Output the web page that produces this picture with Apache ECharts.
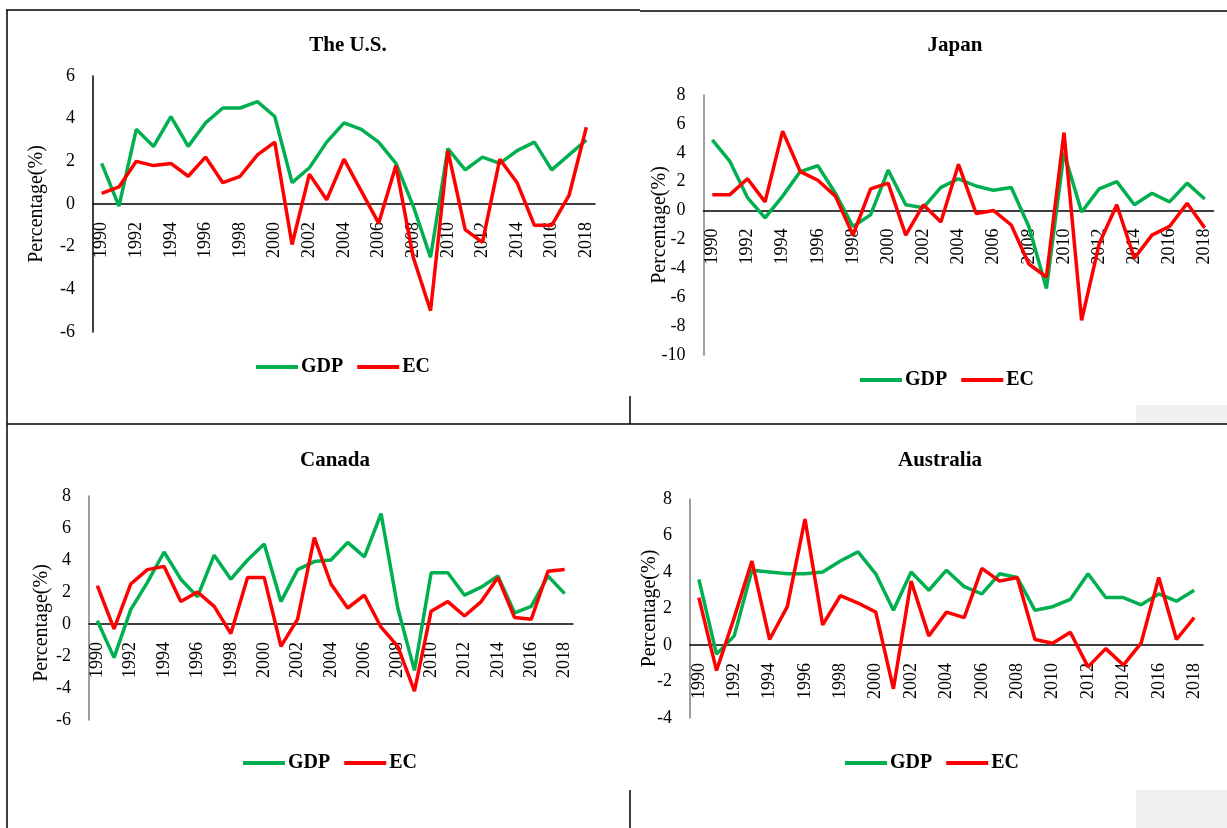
<!DOCTYPE html>
<html>
<head>
<meta charset="utf-8">
<script src="https://cdn.jsdelivr.net/npm/echarts@6/dist/echarts.min.js"></script>
<style>html,body{margin:0;padding:0;background:#fff}#c{width:1227px;height:828px}</style>
</head>
<body>
<div id="c"></div>
<script>
const years = ['1990','1991','1992','1993','1994','1995','1996','1997','1998','1999','2000','2001','2002','2003','2004','2005','2006','2007','2008','2009','2010','2011','2012','2013','2014','2015','2016','2017','2018'];
const panelTitles = ['The U.S.', 'Japan', 'Canada', 'Australia'];
const usGDP = [1.9,-0.1,3.5,2.7,4.1,2.7,3.8,4.5,4.5,4.8,4.1,1.0,1.7,2.9,3.8,3.5,2.9,1.9,-0.1,-2.5,2.6,1.6,2.2,1.9,2.5,2.9,1.6,2.3,3.0];
const usEC  = [0.5,0.8,2.0,1.8,1.9,1.3,2.2,1.0,1.3,2.3,2.9,-1.9,1.4,0.2,2.1,0.6,-0.9,1.8,-2.5,-5.0,2.5,-1.2,-1.8,2.1,1.0,-1.0,-1.0,0.4,3.6];
const jpGDP = [4.9,3.4,0.9,-0.5,1.0,2.7,3.1,1.2,-1.1,-0.3,2.8,0.4,0.2,1.6,2.2,1.7,1.4,1.6,-1.1,-5.4,4.0,-0.1,1.5,2.0,0.4,1.2,0.6,1.9,0.8];
const jpEC  = [1.1,1.1,2.2,0.6,5.5,2.7,2.1,1.0,-1.7,1.5,1.9,-1.7,0.4,-0.8,3.2,-0.2,0.0,-1.0,-3.7,-4.6,5.4,-7.6,-2.3,0.4,-3.3,-1.7,-1.1,0.5,-1.2];
const caGDP = [0.2,-2.1,0.9,2.6,4.5,2.8,1.7,4.3,2.8,4.0,5.0,1.4,3.4,3.9,4.0,5.1,4.2,6.9,1.0,-2.9,3.2,3.2,1.8,2.3,3.0,0.7,1.1,3.0,1.9];
const caEC  = [2.4,-0.3,2.5,3.4,3.6,1.4,2.0,1.1,-0.6,2.9,2.9,-1.4,0.3,5.4,2.5,1.0,1.8,-0.2,-1.4,-4.2,0.8,1.4,0.5,1.4,2.9,0.4,0.3,3.3,3.4];
const auGDP = [3.6,-0.5,0.5,4.1,4.0,3.9,3.9,4.0,4.6,5.1,3.9,1.9,4.0,3.0,4.1,3.2,2.8,3.9,3.7,1.9,2.1,2.5,3.9,2.6,2.6,2.2,2.8,2.4,3.0];
const auEC  = [2.6,-1.4,1.5,4.6,0.3,2.1,6.9,1.1,2.7,2.3,1.8,-2.4,3.5,0.5,1.8,1.5,4.2,3.5,3.7,0.3,0.1,0.7,-1.2,-0.2,-1.1,0.1,3.7,0.3,1.5];
const yMins = [-6, -10, -6, -4];
const yMaxs = [6, 8, 8, 8];

const serif = 'Liberation Serif';
const GREEN = '#00B050', RED = '#FF0000';
const plotBoxes = [
  {left: 93, top: 76, width: 502, height: 256},
  {left: 703.5, top: 95, width: 510, height: 260},
  {left: 89, top: 496, width: 484, height: 224},
  {left: 690, top: 499, width: 513, height: 219}
];
const titlePos = [[343, 30], [950, 30], [330, 445], [935, 445]];
const legendPos = [[251, 352], [855, 365], [238, 748], [840, 748]];
const nameGaps = [46, 34, 37, 30];
const namePads = [[0,0,0,0],[0,0,0,0],[0,30,0,0],[0,0,0,0]];
const axisColors = ['#000', '#7f7f7f', '#7f7f7f', '#7f7f7f'];
const gdpData = [usGDP, jpGDP, caGDP, auGDP];
const ecData = [usEC, jpEC, caEC, auEC];

const chart = echarts.init(document.getElementById('c'));
const grid = [], xAxis = [], yAxis = [], series = [], title = [], legend = [];
for (let i = 0; i < 4; i++) {
  const b = plotBoxes[i];
  grid.push(b);
  title.push({text: panelTitles[i], left: titlePos[i][0], top: titlePos[i][1], textAlign: 'center',
    textStyle: {fontFamily: serif, fontWeight: 'bold', fontSize: 21, color: '#000'}});
  legend.push({data: ['GDP', 'EC'], left: legendPos[i][0], top: legendPos[i][1], icon: 'rect',
    itemWidth: 42, itemHeight: 4, itemGap: 14,
    textStyle: {fontFamily: serif, fontWeight: 'bold', fontSize: 20, color: '#000', padding: [0,0,0,-2]}});
  xAxis.push({type: 'category', gridIndex: i, data: years, boundaryGap: true,
    axisLine: {onZero: true, lineStyle: {color: '#000', width: 1.5}},
    axisTick: {show: false}, axisLabel: {show: false}, splitLine: {show: false}});
  yAxis.push({type: 'value', gridIndex: i, min: yMins[i], max: yMaxs[i], interval: 2,
    name: 'Percentage(%)', nameLocation: 'middle', nameGap: nameGaps[i], nameMoveOverlap: false,
    nameTextStyle: {fontFamily: serif, fontSize: 20, color: '#000', padding: namePads[i]},
    axisLine: {show: true, onZero: false, lineStyle: {color: axisColors[i], width: 1.5}},
    axisTick: {show: false},
    axisLabel: {margin: 18, fontFamily: serif, fontSize: 18, color: '#000'},
    splitLine: {show: false}});
  series.push({name: 'GDP', type: 'line', xAxisIndex: i, yAxisIndex: i, data: gdpData[i],
    symbol: 'none', lineStyle: {color: GREEN, width: 3.5}, itemStyle: {color: GREEN}});
  series.push({name: 'EC', type: 'line', xAxisIndex: i, yAxisIndex: i, data: ecData[i],
    symbol: 'none', lineStyle: {color: RED, width: 3.5}, itemStyle: {color: RED}});
}
// label grids: bottom edge sits on the zero line so year labels hang from y = 0
for (let i = 0; i < 4; i++) {
  const b = plotBoxes[i];
  const zeroY = b.top + b.height * yMaxs[i] / (yMaxs[i] - yMins[i]);
  grid.push({left: b.left, width: b.width, top: zeroY - 40, height: 40});
  xAxis.push({type: 'category', gridIndex: 4 + i, data: years, boundaryGap: true,
    axisLine: {show: false}, axisTick: {show: false}, splitLine: {show: false},
    axisLabel: {interval: 1, rotate: 90, margin: 18, fontFamily: serif, fontSize: 18, color: '#000'}});
  yAxis.push({type: 'value', gridIndex: 4 + i, show: false, min: 0, max: 1});
}
const L = (x1, y1, x2, y2) => ({type: 'line', shape: {x1, y1, x2, y2}, style: {stroke: '#000', lineWidth: 1.5}, silent: true});
chart.setOption({
  animation: false,
  backgroundColor: '#fff',
  title, legend, grid, xAxis, yAxis, series,
  graphic: [
    {type: 'rect', shape: {x: 1136, y: 405, width: 91, height: 19}, style: {fill: '#f0f0f0'}, silent: true},
    {type: 'rect', shape: {x: 1136, y: 790, width: 91, height: 38}, style: {fill: '#f0f0f0'}, silent: true},
    L(6, 10, 640, 10), L(640, 11, 1227, 11),
    L(7, 10, 7, 828),
    L(7, 424, 1227, 424),
    L(630, 396, 630, 424),
    L(630, 790, 630, 828)
  ]
});
</script>
</body>
</html>
